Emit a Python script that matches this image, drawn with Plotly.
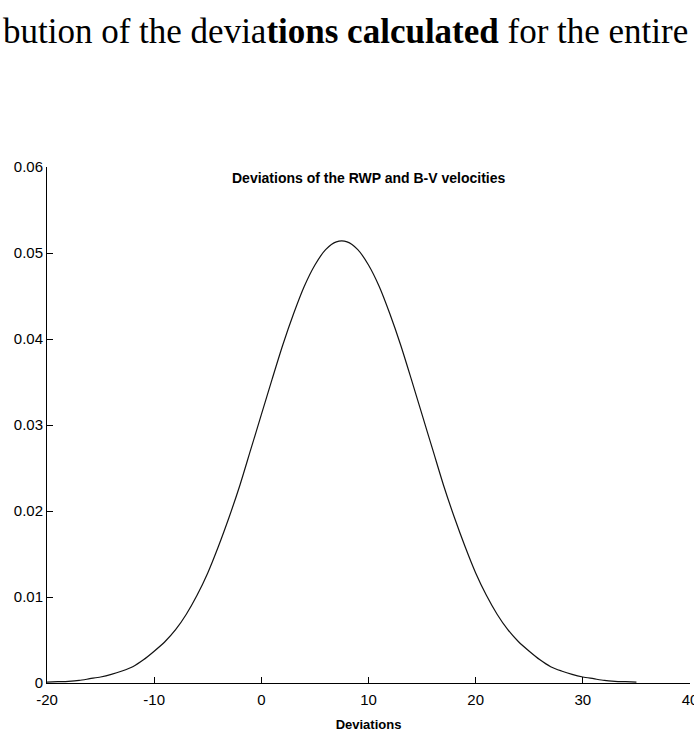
import plotly.graph_objects as go

# Deviations (x) and the fitted density curve values (y)
deviations = [-20, -19, -18, -17, -16, -15, -14, -13, -12, -11, -10, -9, -8, -7, -6,
              -5, -4, -3, -2, -1, 0, 1, 2, 3, 4, 5, 6, 7, 8, 9, 10, 11, 12, 13, 14,
              15, 16, 17, 18, 19, 20, 21, 22, 23, 24, 25, 26, 27, 28, 29, 30, 31,
              32, 33, 34, 35]
density = [0.0001, 0.00015, 0.0002, 0.0003, 0.0005, 0.0007, 0.0010, 0.0014, 0.0019,
           0.0027, 0.0037, 0.0048, 0.0062, 0.0080, 0.0102, 0.0128, 0.0159, 0.0193,
           0.0230, 0.0271, 0.0312, 0.0353, 0.0393, 0.0429, 0.0461, 0.0486, 0.0504,
           0.0513, 0.0513, 0.0504, 0.0486, 0.0461, 0.0429, 0.0393, 0.0353, 0.0312,
           0.0271, 0.0230, 0.0193, 0.0159, 0.0128, 0.0102, 0.0080, 0.0062, 0.0048,
           0.0037, 0.0027, 0.0019, 0.0014, 0.0010, 0.0007, 0.0005, 0.0003, 0.0002,
           0.00015, 0.0001]

x_ticks = [-20, -10, 0, 10, 20, 30, 40]
x_tick_labels = ["-20", "-10", "0", "10", "20", "30", "40"]
y_ticks = [0, 0.01, 0.02, 0.03, 0.04, 0.05, 0.06]
y_tick_labels = ["0", "0.01", "0.02", "0.03", "0.04", "0.05", "0.06"]

W, H = 694, 739
L, R, T, B = 47, 4, 167, 56

fig = go.Figure()
fig.add_trace(go.Scatter(
    x=deviations, y=density, mode="lines",
    line=dict(color="#111111", width=1.2, shape="spline", smoothing=0.8),
    hoverinfo="skip", showlegend=False,
))

axis_font = dict(family="Liberation Sans, Arial, sans-serif", size=15, color="#000000")

fig.update_xaxes(
    range=[-20, 40], tickvals=x_ticks, ticktext=x_tick_labels,
    showline=True, linecolor="#000000", linewidth=1, mirror=False,
    ticks="inside", ticklen=6, tickcolor="#000000", tickwidth=1,
    ticklabelstandoff=3, ticklabeloverflow="allow", automargin=False,
    showgrid=False, zeroline=False, tickfont=axis_font,
    title=dict(text="<b>Deviations</b>", standoff=12,
               font=dict(family="Liberation Sans, Arial, sans-serif", size=13, color="#000000")),
)
fig.update_yaxes(
    range=[0, 0.06], tickvals=y_ticks, ticktext=y_tick_labels,
    showline=True, linecolor="#000000", linewidth=1, mirror=False,
    ticks="inside", ticklen=6, tickcolor="#000000", tickwidth=1,
    automargin=False,
    showgrid=False, zeroline=False, tickfont=axis_font,
)

pw = W - L - R
ph = H - T - B

# Chart title, drawn just inside the top of the plotting area
fig.add_annotation(
    text="<b>Deviations of the RWP and B-V velocities</b>",
    xref="paper", yref="paper", x=0.5, y=1 - (178 - T) / ph,
    xanchor="center", yanchor="middle", showarrow=False,
    font=dict(family="Liberation Sans, Arial, sans-serif", size=14, color="#000000"),
)

# Running caption line above the figure
fig.add_annotation(
    text="bution of the devia<b>tions calculated</b> for the entire",
    xref="paper", yref="paper", x=(1 - L) / pw, y=1 + (T - 31) / ph,
    xanchor="left", yanchor="middle", showarrow=False,
    font=dict(family="Liberation Serif, Times New Roman, serif", size=35, color="#000000"),
)

fig.update_layout(
    width=W, height=H,
    margin=dict(l=L, r=R, t=T, b=B, autoexpand=False),
    paper_bgcolor="#ffffff", plot_bgcolor="#ffffff",
    showlegend=False,
)

fig.write_html("out.html")
